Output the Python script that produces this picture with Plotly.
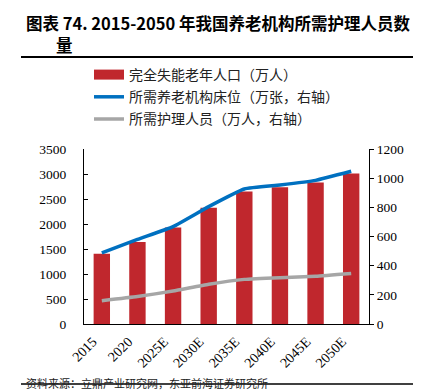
import plotly.graph_objects as go

categories = ["2015", "2020", "2025E", "2030E", "2035E", "2040E", "2045E", "2050E"]
disabled_elderly = [1405, 1640, 1930, 2325, 2650, 2735, 2830, 3010]
beds_needed = [487, 580, 668, 805, 926, 953, 985, 1047]
caregivers_needed = [160, 188, 226, 272, 306, 318, 327, 346]

y_left_ticks = [0, 500, 1000, 1500, 2000, 2500, 3000, 3500]
y_right_ticks = [0, 200, 400, 600, 800, 1000, 1200]

RED = "#C0272D"
BLUE = "#0070C0"
GRAY = "#A6A6A6"
CJK = "Noto Sans CJK SC"
SERIF = "Liberation Serif"

W, H = 421, 390
L, R, T, B = 76, 60, 141, 74
pw = W - L - R
ph = H - T - B

def px_x(x):
    return (x - L) / pw

def px_y(y):
    return (H - B - y) / ph

fig = go.Figure()
fig.add_trace(go.Bar(x=categories, y=disabled_elderly, name="完全失能老年人口（万人）",
                     marker=dict(color=RED, line=dict(width=0)), width=0.46, yaxis="y",
                     showlegend=False, legendgroup="bar"))
# legend entry for the bars (wide red swatch like the reference)
fig.add_trace(go.Scatter(x=[categories[0]], y=[None], name="完全失能老年人口（万人）",
                         mode="lines", line=dict(color=RED, width=12), yaxis="y",
                         legendgroup="bar", hoverinfo="skip"))
fig.add_trace(go.Scatter(x=categories, y=beds_needed, name="所需养老机构床位（万张，右轴）",
                         mode="lines", line=dict(color=BLUE, width=3.5, shape="spline", smoothing=0.4),
                         yaxis="y2", legendgroup="beds"))
fig.add_trace(go.Scatter(x=categories, y=caregivers_needed, name="所需护理人员（万人，右轴）",
                         mode="lines", line=dict(color=GRAY, width=3.5, shape="spline", smoothing=0.4),
                         yaxis="y2", legendgroup="care"))

fig.update_layout(
    width=W, height=H,
    margin=dict(l=L, r=R, t=T, b=B, pad=0),
    paper_bgcolor="white", plot_bgcolor="white",
    showlegend=True,
    legend=dict(x=px_x(81), y=px_y(51), xanchor="left", yanchor="top",
                font=dict(family=CJK, size=14, color="#222"), traceorder="grouped",
                bgcolor="rgba(0,0,0,0)", tracegroupgap=1, itemwidth=30),
    xaxis=dict(type="category", showline=True, linecolor="#000", linewidth=1,
               tickangle=-45, ticks="", tickfont=dict(family=SERIF, size=14, color="#000"),
               ticklabelshift=-9, ticklabelstandoff=3,
               showgrid=False, zeroline=False),
    yaxis=dict(range=[0, 3500], tickvals=y_left_ticks, showline=True, linecolor="#000",
               linewidth=1, ticks="inside", ticklen=4, tickcolor="#000",
               ticklabelstandoff=14,
               tickfont=dict(family=SERIF, size=13.5, color="#000"), showgrid=False,
               zeroline=False),
    yaxis2=dict(range=[0, 1200], tickvals=y_right_ticks, overlaying="y", side="right",
                showline=True, linecolor="#000", linewidth=1, ticks="outside", ticklen=4,
                tickcolor="#000", tickfont=dict(family=SERIF, size=13.5, color="#000"),
                showgrid=False, zeroline=False),
    bargap=0.54,
)

fig.add_annotation(text="<b>图表 74. 2015-2050 年我国养老机构所需护理人员数</b>",
                   xref="paper", yref="paper", x=px_x(16), y=px_y(0.5), xanchor="left",
                   yanchor="top", showarrow=False,
                   font=dict(family=CJK, size=16.5, color="#000"))
fig.add_annotation(text="<b>量</b>",
                   xref="paper", yref="paper", x=px_x(46), y=px_y(23), xanchor="left",
                   yanchor="top", showarrow=False,
                   font=dict(family=CJK, size=16.5, color="#000"))
fig.add_annotation(text="资料来源：立鼎产业研究网，东亚前海证券研究所",
                   xref="paper", yref="paper", x=px_x(16), y=px_y(385), xanchor="left",
                   yanchor="bottom", showarrow=False,
                   font=dict(family=CJK, size=11, color="#222"))
fig.add_shape(type="line", xref="paper", yref="paper", x0=px_x(13), x1=px_x(417),
              y0=px_y(49), y1=px_y(49), line=dict(color="#000", width=2))
fig.add_shape(type="line", xref="paper", yref="paper", x0=px_x(13), x1=px_x(417),
              y0=px_y(376), y1=px_y(376), line=dict(color="#000", width=1.5))

fig.write_html("out.html")
